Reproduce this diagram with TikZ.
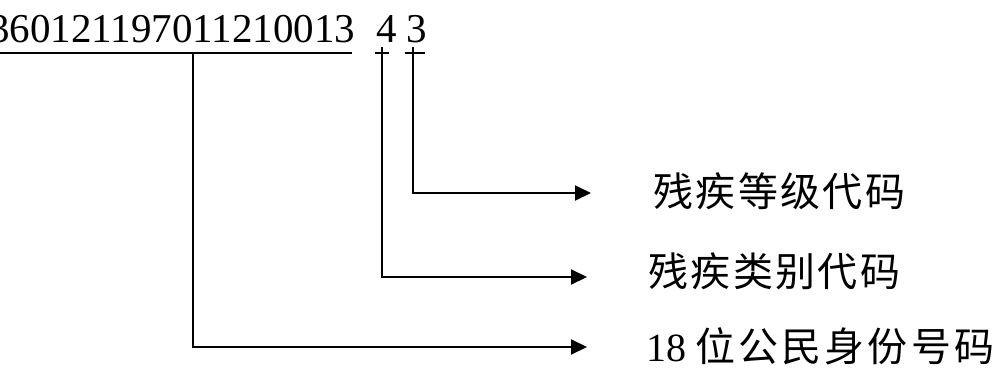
\documentclass[tikz,border=0pt]{standalone}
\usepackage{fontspec}
\setmainfont{Liberation Serif}
\newfontfamily\cjk[LetterSpace=6]{Noto Sans CJK SC}
\newfontfamily\cjkwide[LetterSpace=8]{Noto Sans CJK SC}
\usetikzlibrary{arrows.meta}
\begin{document}
\begin{tikzpicture}[x=1pt,y=-1pt,
  ln/.style={line width=2pt,black},
  arr/.style={ln,-{Triangle[length=16pt,width=15pt]}},
  digits/.style={inner sep=0pt,anchor=base west,font=\fontsize{41}{41}\selectfont},
  lab/.style={inner sep=0pt,anchor=west,font=\fontsize{40}{40}\selectfont\cjk}]
\useasboundingbox[fill=white] (0,0) rectangle (1000,369);
% number string
\node[digits] (num) at (-11,43) {360121197011210013};
\node[digits] (d4) at (376,43) {4};
\node[digits] (d3) at (406,43) {3};
% labels
\node[lab] (lab3) at (653,191) {残疾等级代码};
\node[lab] (lab4) at (648,271) {残疾类别代码};
\node[lab,anchor=base west] (lab18) at (646,361) {{\rmfamily\fontsize{40}{40}\selectfont 18}\hspace{9pt}{\cjkwide 位公民身份号码}};
% underline and ticks
\coordinate (ul) at (0,53);
\coordinate (ur) at (352,53);
\coordinate (u18) at (193,53);
\coordinate (t4) at (382,47);
\coordinate (t3) at (413,47);
\draw[ln] (ul) -- (ur);
\draw[ln] (375,53) -- (389,53);
\draw[ln] (405,53) -- (425,53);
% arrow tips
\coordinate (a3) at (591,193);
\coordinate (a4) at (587,277);
\coordinate (a18) at (587,347);
% connectors
\draw[arr] (t3) |- (a3);
\draw[arr] (t4) |- (a4);
\draw[arr] (u18) |- (a18);
\end{tikzpicture}
\end{document}
